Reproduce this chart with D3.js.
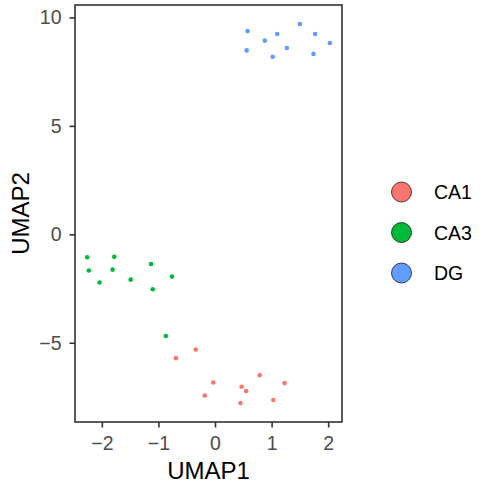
<!DOCTYPE html>
<html>
<head>
<meta charset="utf-8">
<script src="https://cdn.jsdelivr.net/npm/d3@7"></script>
<style>
  body { margin: 0; background: #fff; }
  text { font-family: "Liberation Sans", Arial, sans-serif; }
</style>
</head>
<body>
<div id="chart"></div>
<script>
// clusters, in legend order
var groups = ["CA1", "CA3", "DG"];
var colors = ["#F8766D", "#00BA38", "#619CFF"];

// UMAP coordinates
var ca1X = [-0.34, -0.69, -0.03, -0.18, 0.47, 0.55, 0.79, 1.23, 0.45, 1.03];
var ca1Y = [-5.31, -5.71, -6.83, -7.43, -7.03, -7.23, -6.50, -6.86, -7.78, -7.64];
var ca3X = [-2.26, -1.78, -1.13, -2.23, -1.81, -2.04, -1.49, -0.76, -1.10, -0.87];
var ca3Y = [-1.06, -1.04, -1.37, -1.67, -1.63, -2.22, -2.09, -1.95, -2.53, -4.69];
var dgX = [0.575, 0.88, 1.10, 1.50, 1.77, 2.03, 0.56, 1.02, 1.27, 1.74];
var dgY = [9.37, 8.93, 9.24, 9.70, 9.24, 8.82, 8.48, 8.19, 8.59, 8.32];

var xTicks = [-2, -1, 0, 1, 2];
var yTicks = [-5, 0, 5, 10];

var width = 488, height = 488;
var panel = {left: 75, right: 342, top: 5, bottom: 422};

// build point table
var points = [];
[[ca1X, ca1Y], [ca3X, ca3Y], [dgX, dgY]].forEach(function (s, g) {
    s[0].forEach(function (x, i) {
        points.push({x: x, y: s[1][i], group: groups[g]});
    });
});

// ggplot style 5% expansion
function expand(ext) {
    var pad = (ext[1] - ext[0]) * 0.05;
    return [ext[0] - pad, ext[1] + pad];
}

var x = d3.scaleLinear()
    .domain(expand(d3.extent(points, d => d.x)))
    .range([panel.left, panel.right]);
var y = d3.scaleLinear()
    .domain(expand(d3.extent(points, d => d.y)))
    .range([panel.bottom, panel.top]);
var color = d3.scaleOrdinal().domain(groups).range(colors);

var svg = d3.select("#chart").append("svg")
    .attr("width", width)
    .attr("height", height);

// points
svg.append("g").selectAll("circle")
    .data(points)
    .enter().append("circle")
    .attr("cx", d => x(d.x))
    .attr("cy", d => y(d.y))
    .attr("r", 2.3)
    .style("fill", d => color(d.group));

// panel border
svg.append("rect")
    .attr("x", panel.left)
    .attr("y", panel.top)
    .attr("width", panel.right - panel.left)
    .attr("height", panel.bottom - panel.top)
    .style("fill", "none")
    .style("stroke", "#333")
    .style("stroke-width", 1.6);

// axes
var xAxis = svg.append("g")
    .attr("transform", "translate(0," + panel.bottom + ")")
    .call(d3.axisBottom(x).tickValues(xTicks).tickSize(5.5).tickPadding(9)
        .tickFormat(d3.format("d")));
var yAxis = svg.append("g")
    .attr("transform", "translate(" + panel.left + ",0)")
    .call(d3.axisLeft(y).tickValues(yTicks).tickSize(5.5).tickPadding(8)
        .tickFormat(d3.format("d")));

[xAxis, yAxis].forEach(function (a) {
    a.select(".domain").remove();
    a.selectAll("line").style("stroke", "#333").style("stroke-width", 1.6);
    a.selectAll("text")
        .style("font-size", "19.5px")
        .style("fill", "#4D4D4D")
        .style("font-family", "'Liberation Sans', Arial, sans-serif");
});

// axis titles
svg.append("text")
    .attr("x", (panel.left + panel.right) / 2)
    .attr("y", 479)
    .attr("text-anchor", "middle")
    .style("font-size", "24px")
    .text("UMAP1");
svg.append("text")
    .attr("transform", "translate(28.5," + (panel.top + panel.bottom) / 2 + ") rotate(-90)")
    .attr("text-anchor", "middle")
    .style("font-size", "24px")
    .text("UMAP2");

// legend
var legend = svg.append("g").selectAll("g")
    .data(groups)
    .enter().append("g")
    .attr("transform", (d, i) => "translate(401.5," + (192 + i * 40.5) + ")");
legend.append("circle")
    .attr("r", 10)
    .style("fill", d => color(d))
    .style("stroke", "#000")
    .style("stroke-width", 0.7);
legend.append("text")
    .attr("x", 32.5)
    .attr("dy", "0.36em")
    .style("font-size", "19.5px")
    .text(d => d);
</script>
</body>
</html>
